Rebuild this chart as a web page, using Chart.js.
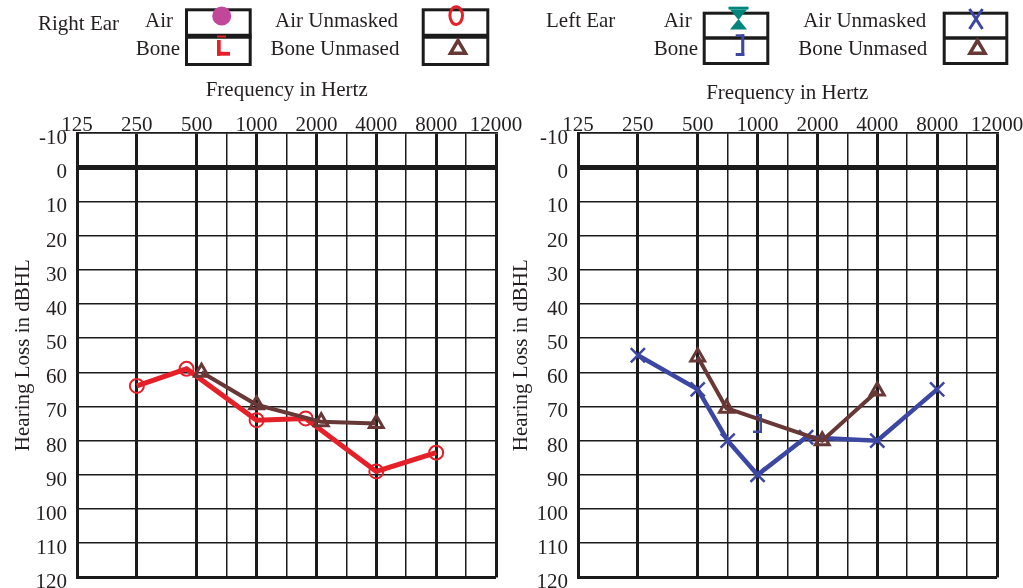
<!DOCTYPE html>
<html>
<head>
<meta charset="utf-8">
<title>Audiogram</title>
<script src="https://cdn.jsdelivr.net/npm/chart.js@4.4.1/dist/chart.umd.min.js"></script>
<style>
  html, body { margin: 0; padding: 0; background: #fff; overflow: hidden; }
  body { width: 1023px; height: 588px; position: relative; }
  canvas, svg { position: absolute; }
  svg { z-index: 2; }
</style>
</head>
<body>
<canvas id="rightEar" width="545" height="500" style="left:0;top:100px"></canvas>
<canvas id="leftEar" width="518" height="500" style="left:505px;top:100px"></canvas>

<svg width="1023" height="110" style="left:0;top:0">
  <g font-family="Liberation Serif, serif" font-size="21" fill="#231f20">
    <text x="38" y="30">Right Ear</text>
    <text x="173" y="26.7" text-anchor="end">Air</text>
    <text x="180" y="55" text-anchor="end">Bone</text>
    <text x="336.5" y="26.7" text-anchor="middle">Air Unmasked</text>
    <text x="335" y="55" text-anchor="middle">Bone Unmased</text>
    <text x="286.7" y="96" text-anchor="middle">Frequency in Hertz</text>

    <text x="546" y="26.7">Left Ear</text>
    <text x="691.7" y="26.7" text-anchor="end">Air</text>
    <text x="698" y="55" text-anchor="end">Bone</text>
    <text x="864.7" y="26.7" text-anchor="middle">Air Unmasked</text>
    <text x="862.8" y="55" text-anchor="middle">Bone Unmased</text>
    <text x="787.2" y="99.3" text-anchor="middle">Frequency in Hertz</text>
  </g>

  <g fill="none" stroke="#1b1b1b" stroke-width="3">
    <rect x="186.5" y="9.8" width="63.7" height="54.7"/>
    <line x1="186" y1="36.3" x2="251.5" y2="36.3" stroke-width="5"/>
    <rect x="423.2" y="9.8" width="64.6" height="54.7"/>
    <line x1="422" y1="36.3" x2="489" y2="36.3" stroke-width="5"/>
    <rect x="704.2" y="13.2" width="63.6" height="50.3"/>
    <line x1="703" y1="38" x2="769" y2="38" stroke-width="3.5"/>
    <rect x="944.2" y="13.2" width="62.6" height="50.3"/>
    <line x1="943" y1="38" x2="1008" y2="38" stroke-width="3.5"/>
  </g>

  <!-- right ear symbols -->
  <circle cx="221.7" cy="16" r="9.5" fill="#c2479b"/>
  <g fill="#e52028">
    <rect x="217" y="35.5" width="9" height="2"/>
    <rect x="217" y="40" width="3.7" height="15.7"/>
    <rect x="217" y="51.8" width="13" height="3.9"/>
  </g>
  <ellipse cx="456.2" cy="15.6" rx="6.3" ry="8.8" fill="none" stroke="#e52028" stroke-width="3"/>
  <polygon points="458,40.5 450.5,53.2 465.5,53.2" fill="none" stroke="#673836" stroke-width="3.5"/>

  <!-- left ear symbols -->
  <g fill="#00857c">
    <rect x="728.5" y="6.7" width="20" height="2.8"/>
    <polygon points="730,9.5 747,9.5 738.5,20"/>
    <polygon points="738.5,19 730,29.5 747,29.5"/>
  </g>
  <g fill="#3c47a3">
    <rect x="735.7" y="34.3" width="8.6" height="2.4"/>
    <rect x="741.2" y="34.3" width="3.1" height="21.7"/>
    <rect x="735.7" y="53" width="8.6" height="3"/>
  </g>
  <g stroke="#3c47a3" stroke-width="3">
    <line x1="969.5" y1="9" x2="982.5" y2="29"/>
    <line x1="982.5" y1="9" x2="969.5" y2="29"/>
  </g>
  <polygon points="977.5,40.5 970,53.2 985,53.2" fill="none" stroke="#673836" stroke-width="3.5"/>
</svg>

<script>
// frequency axis: octave positions 0..7, labelled at the integers
const freqLabels = ['125', '250', '500', '1000', '2000', '4000', '8000', '12000'];
const gridSteps = [0, 1, 2, 2.5, 3, 3.5, 4, 4.5, 5, 5.5, 6, 6.5, 7];

// Right ear (left chart)
const rightAirX = [1, 1.83, 3, 3.82, 5, 6];
const rightAirDb = [64, 59, 74, 73.5, 89, 83.5];
const rightBoneX = [2.08, 3, 4.08, 5];
const rightBoneDb = [60, 69.5, 74.5, 75];

// Left ear (right chart)
const leftAirX = [1, 2, 2.5, 3, 3.81, 5, 6];
const leftAirDb = [55, 65, 80, 90, 79, 80, 65];
const leftBoneX = [2, 2.48, 4.08, 5];
const leftBoneDb = [55.5, 70.5, 80, 65.5];
const leftBoneMaskedX = [3];
const leftBoneMaskedDb = [75];

const red = '#e52028';
const brown = '#673836';
const blue = '#3c47a3';
const ink = '#1b1b1b';
const textInk = '#231f20';
const serif = 'Liberation Serif, serif';

function points(xs, ys) {
    return xs.map((x, i) => ({ x: x, y: ys[i] }));
}

function bracketImage(color) {
    const c = document.createElement('canvas');
    c.width = 9;
    c.height = 19;
    const g = c.getContext('2d');
    g.fillStyle = color;
    g.fillRect(3, 0, 6, 2.5);
    g.fillRect(6.5, 0, 2.5, 19);
    g.fillRect(0, 16.5, 9, 2.5);
    return c;
}

function audiogram(id, datasets, yWidth, titlePad, rightPad) {
    return new Chart(document.getElementById(id), {
        type: 'line',
        data: { datasets: datasets },
        options: {
            responsive: false,
            animation: false,
            events: [],
            layout: { padding: { left: 0, right: rightPad, top: 0, bottom: 20 } },
            plugins: { legend: { display: false }, tooltip: { enabled: false } },
            scales: {
                x: {
                    type: 'linear',
                    position: 'top',
                    min: 0,
                    max: 7,
                    afterBuildTicks: axis => { axis.ticks = gridSteps.map(v => ({ value: v })); },
                    afterFit: axis => { axis.height = 33; },
                    ticks: {
                        autoSkip: false,
                        maxRotation: 0,
                        padding: -4.6,
                        color: textInk,
                        font: { family: serif, size: 21 },
                        callback: v => Number.isInteger(v) ? freqLabels[v] : ''
                    },
                    grid: {
                        drawTicks: false,
                        color: ink,
                        lineWidth: c => Number.isInteger(c.tick.value) ? 3 : 1.5
                    },
                    border: { width: 1.5, color: ink }
                },
                y: {
                    type: 'linear',
                    reverse: true,
                    min: -10,
                    max: 120,
                    afterFit: axis => { axis.width = yWidth; },
                    ticks: {
                        stepSize: 10,
                        padding: 10,
                        labelOffset: 5.5,
                        color: textInk,
                        font: { family: serif, size: 21 }
                    },
                    title: {
                        display: true,
                        text: 'Hearing Loss in dBHL',
                        color: textInk,
                        font: { family: serif, size: 21 },
                        padding: { top: titlePad, bottom: 0 }
                    },
                    grid: {
                        drawTicks: false,
                        color: ink,
                        lineWidth: c => c.tick.value === 0 ? 5 : (c.tick.value === 120 ? 3 : 1.5)
                    },
                    border: { width: 3, color: ink }
                }
            }
        }
    });
}

audiogram('rightEar', [
    {
        label: 'Bone Unmasked',
        data: points(rightBoneX, rightBoneDb),
        borderColor: brown,
        borderWidth: 4,
        pointStyle: 'triangle',
        pointRadius: 8,
        pointBorderWidth: 3,
        pointBorderColor: brown,
        pointBackgroundColor: 'rgba(0,0,0,0)',
        tension: 0
    },
    {
        label: 'Air Unmasked',
        data: points(rightAirX, rightAirDb),
        borderColor: red,
        borderWidth: 5,
        pointStyle: 'circle',
        pointRadius: 7,
        pointBorderWidth: 2,
        pointBorderColor: red,
        pointBackgroundColor: 'rgba(0,0,0,0)',
        tension: 0
    }
], 77, 11, 49);

audiogram('leftEar', [
    {
        label: 'Bone Masked',
        data: points(leftBoneMaskedX, leftBoneMaskedDb),
        showLine: false,
        pointStyle: bracketImage(blue),
        pointRadius: 9
    },
    {
        label: 'Bone Unmasked',
        data: points(leftBoneX, leftBoneDb),
        borderColor: brown,
        borderWidth: 4,
        pointStyle: 'triangle',
        pointRadius: 8,
        pointBorderWidth: 3,
        pointBorderColor: brown,
        pointBackgroundColor: 'rgba(0,0,0,0)',
        tension: 0
    },
    {
        label: 'Air Unmasked',
        data: points(leftAirX, leftAirDb),
        borderColor: blue,
        borderWidth: 4.5,
        pointStyle: 'crossRot',
        pointRadius: 10,
        pointBorderWidth: 2.5,
        pointBorderColor: blue,
        tension: 0
    }
], 73, 4, 26);
</script>
</body>
</html>
